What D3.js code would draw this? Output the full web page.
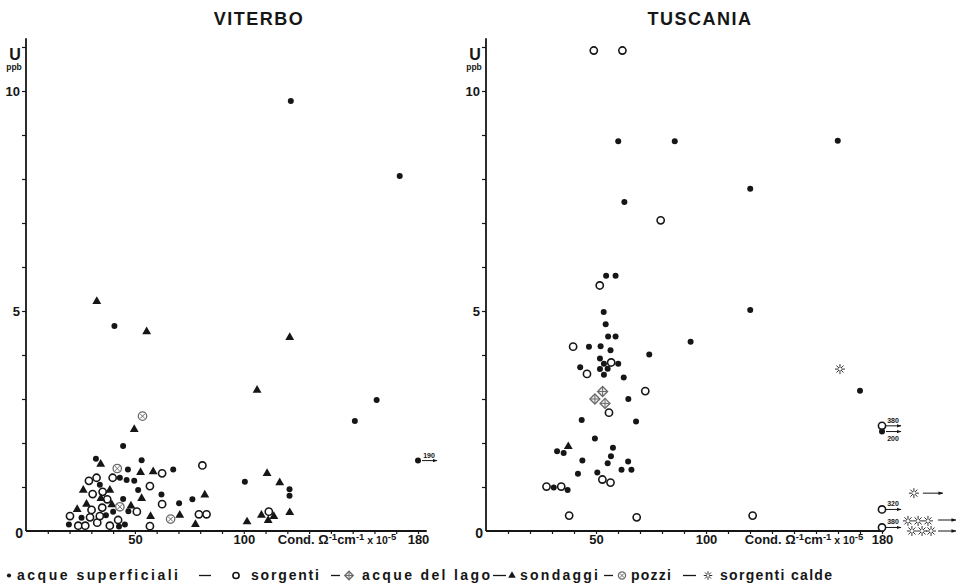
<!DOCTYPE html>
<html><head><meta charset="utf-8">
<script src="https://cdn.jsdelivr.net/npm/d3@7"></script>
<style>
body{margin:0;background:#fff;}
svg{display:block;}
text{font-family:"Liberation Sans",Arial,sans-serif;fill:#161616;}
</style></head>
<body>
<svg id="chart" width="962" height="586"></svg>
<script>
// ---------- DATA (x = conductivity, y = U ppb) ----------
const xTickLabels = [50, 100, 180];
const yTickLabels = [5, 10];

const viterboSuperficiali = [[121.6,9.77],[171.6,8.07],[40.6,4.66],[161,2.98],[151,2.5],[100.5,1.12],[121,0.95],[121,0.80],
 [44.6,1.93],[32.1,1.64],[53.1,1.61],[46.8,1.40],[67.6,1.40],[43.1,1.21],[46.2,1.16],[49.7,1.14],[33.9,1.05],[51.5,0.93],
 [62.2,0.83],[76.4,0.72],[70.3,0.63],[44.6,0.73],[40,0.44],[36.7,0.36],[19.7,0.15],[25.5,0.30],[42.7,0.10],[45.4,0.15],[47,0.45]];
const viterboSorgenti = [[111.5,0.44],[62.5,1.31],[81.0,1.49],[28.9,1.14],[32.4,1.21],[39.8,1.21],[56.9,1.02],[62.5,0.61],
 [37.3,0.72],[30.1,0.48],[35.0,0.53],[50.9,0.44],[79.4,0.38],[82.9,0.38],[20.2,0.34],[24,0.12],[27.2,0.12],[29.4,0.31],
 [32.7,0.19],[33.9,0.34],[38.5,0.12],[42.3,0.25],[56.9,0.11],[30.6,0.84],[35.2,0.89]];
const viterboSondaggi = [[32.5,5.22],[55.4,4.53],[121.1,4.4],[106.1,3.2],[110.7,1.31],[116.5,1.1],[108.1,0.36],[113.8,0.33],
 [111.2,0.24],[101.5,0.21],[121.1,0.42],[49.7,2.31],[34.3,1.52],[52.6,1.33],[58.4,1.35],[26.3,0.93],[38.5,0.93],[82.1,0.82],
 [53.1,0.74],[34.4,0.74],[27.8,0.61],[23.5,0.49],[48.2,0.57],[57.2,0.33],[70.6,0.36],[77.8,0.15],[39.4,0.6]];
const viterboPozzi = [[53.5,2.61],[41.9,1.42],[43.1,0.55],[66.4,0.27]];
// off-scale value plotted at axis end: [x, y, true value, label side, type]
const viterboOffscale = [[180,1.6,"190","above","superficiali"]];

const tuscaniaSuperficiali = [[60.1,8.86],[85.8,8.86],[159.9,8.87],[120.1,7.78],[62.9,7.48],[120.1,5.02],[54.6,5.80],[58.9,5.80],
 [53.5,4.98],[54.4,4.70],[55.5,4.42],[58.9,4.42],[46.8,4.19],[52.1,4.20],[56.6,4.11],[93,4.30],[74.2,4.01],[51.8,3.92],
 [53.6,3.80],[60.1,3.80],[42.8,3.72],[51.8,3.68],[55.3,3.69],[53.6,3.55],[62.6,3.49],[64.7,3.0],[43.5,2.52],[68.2,2.49],
 [49.5,2.10],[57.7,1.89],[32.3,1.81],[35.3,1.77],[56.8,1.70],[43.8,1.60],[55.3,1.54],[64.6,1.58],[61.6,1.39],[66.1,1.39],
 [41.8,1.30],[50.6,1.33],[30.8,0.99],[37.1,0.93],[170,3.19]];
const tuscaniaSorgenti = [[49,10.92],[62,10.92],[79.4,7.06],[51.7,5.58],[39.6,4.19],[56.9,3.83],[45.9,3.57],[72.4,3.18],
 [55.9,2.69],[52.9,1.17],[56.6,1.10],[27.5,1.01],[34.2,1.01],[37.8,0.35],[68.5,0.31],[121.2,0.35]];
const tuscaniaLago = [[53.0,3.17],[49.5,3.0],[54.1,2.90]];
const tuscaniaSondaggi = [[37.4,1.92]];
const tuscaniaCalde = [[160.9,3.68],[194.5,0.86],[191.8,0.23],[196.4,0.23],[200.9,0.23],[193.6,0.0],[198.2,0.0],[202.3,0.0]];
const tuscaniaOffscale = [[180,2.39,"380","above","sorgenti"],[180,2.26,"200","below","superficiali"],
 [180,0.49,"320","above","sorgenti"],[180,0.08,"380","above","sorgenti"]];
// arrows for off-scale hot springs: [x1, x2, y]
const tuscaniaArrows = [[198.6,207.7,0.86],[205.5,213.6,0.25],[205.5,213.6,0.0]];

const legendLabels = ["acque superficiali","sorgenti","acque del lago","sondaggi","pozzi","sorgenti calde"];

// ---------- DRAW ----------
const svg = d3.select("#chart");
const ink = "#161616", grey = "#6a6a6a";

svg.append("defs").append("marker").attr("id","arr").attr("viewBox","0 0 10 10")
  .attr("refX",9).attr("refY",5).attr("markerWidth",5).attr("markerHeight",5).attr("orient","auto")
  .append("path").attr("d","M0,1.5L10,5L0,8.5Z").attr("fill",ink);

function drawSymbol(g, type, cx, cy, s) {
  s = s || 1;
  if (type === "superficiali") {
    g.append("circle").attr("cx",cx).attr("cy",cy).attr("r",3*s).attr("fill",ink);
  } else if (type === "sorgenti") {
    g.append("circle").attr("cx",cx).attr("cy",cy).attr("r",3.6*s).attr("fill","#fff").attr("stroke",ink).attr("stroke-width",1.6);
  } else if (type === "sondaggi") {
    g.append("path").attr("transform",`translate(${cx},${cy})`).attr("d",d3.symbol(d3.symbolTriangle, 34*s*s)()).attr("fill",ink);
  } else if (type === "pozzi") {
    const r = 4.2*s;
    g.append("circle").attr("cx",cx).attr("cy",cy).attr("r",r).attr("fill","#fff").attr("stroke",grey).attr("stroke-width",1.3);
    const k = r*0.6;
    g.append("path").attr("d",`M${cx-k},${cy-k}L${cx+k},${cy+k}M${cx-k},${cy+k}L${cx+k},${cy-k}`).attr("stroke",grey).attr("stroke-width",1);
  } else if (type === "lago") {
    const r = 5*s;
    g.append("path").attr("d",`M${cx},${cy-r}L${cx+r},${cy}L${cx},${cy+r}L${cx-r},${cy}Z`).attr("fill","#eee").attr("stroke",grey).attr("stroke-width",1.3);
    g.append("path").attr("d",`M${cx},${cy-r}L${cx},${cy+r}M${cx-r},${cy}L${cx+r},${cy}`).attr("stroke",grey).attr("stroke-width",1);
  } else if (type === "calde") {
    const r = 5*s;
    let d = "";
    for (let i=0;i<4;i++){const a=i*Math.PI/4; d+=`M${cx-r*Math.cos(a)},${cy-r*Math.sin(a)}L${cx+r*Math.cos(a)},${cy+r*Math.sin(a)}`;}
    g.append("path").attr("d",d).attr("stroke",ink).attr("stroke-width",0.9);
    g.append("circle").attr("cx",cx).attr("cy",cy).attr("r",1.4*s).attr("fill","#fff");
  }
}

const panels = [
  {title:"VITERBO", titleX:259, xr:[26,418], axisEnd:184, condX:337,
   series:[["sorgenti",viterboSorgenti],["sondaggi",viterboSondaggi],["pozzi",viterboPozzi],["superficiali",viterboSuperficiali]],
   off:viterboOffscale, arrows:[]},
  {title:"TUSCANIA", titleX:700, xr:[486,882], axisEnd:181, condX:804,
   series:[["sorgenti",tuscaniaSorgenti],["lago",tuscaniaLago],["sondaggi",tuscaniaSondaggi],["superficiali",tuscaniaSuperficiali],["calde",tuscaniaCalde]],
   off:tuscaniaOffscale, arrows:tuscaniaArrows}
];

panels.forEach(p => {
  const x = d3.scaleLinear().domain([0,180]).range(p.xr);
  const y = d3.scaleLinear().domain([0,10]).range([531,91]);
  const g = svg.append("g");

  g.append("text").attr("x",p.titleX).attr("y",25).attr("text-anchor","middle")
    .attr("font-size",18).attr("font-weight","bold").attr("letter-spacing",1.5).text(p.title);

  // y axis
  const ya = g.append("g").attr("transform",`translate(${x(0)},0)`)
    .call(d3.axisLeft(y).tickValues(d3.range(1,12)).tickSize(4).tickPadding(2)
      .tickFormat(d => yTickLabels.includes(d) ? d : ""));
  ya.select(".domain").remove();
  ya.selectAll("line").attr("stroke",ink).attr("stroke-width",1.2);
  ya.selectAll("text").attr("font-size",13).attr("font-weight","bold").attr("fill",ink).attr("font-family","Liberation Sans, Arial, sans-serif");
  g.append("line").attr("x1",x(0)).attr("x2",x(0)).attr("y1",y(0)).attr("y2",y(11.2)).attr("stroke",ink).attr("stroke-width",1.8);

  // x axis
  const xa = g.append("g").attr("transform",`translate(0,${y(0)})`)
    .call(d3.axisBottom(x).tickValues(d3.range(10,190,10)).tickSize(3).tickPadding(1)
      .tickFormat(d => xTickLabels.includes(d) ? d : ""));
  xa.select(".domain").remove();
  xa.selectAll("line").attr("stroke",ink).attr("stroke-width",1.2);
  xa.selectAll("text").attr("font-size",13).attr("font-weight","bold").attr("fill",ink).attr("font-family","Liberation Sans, Arial, sans-serif");
  g.append("line").attr("x1",x(0)).attr("x2",x(p.axisEnd)).attr("y1",y(0)).attr("y2",y(0)).attr("stroke",ink).attr("stroke-width",1.8);

  g.append("text").attr("x",x(0)-3).attr("y",y(0)+7).attr("text-anchor","end")
    .attr("font-size",14).attr("font-weight","bold").text("0");

  // axis titles
  g.append("text").attr("x",x(0)-11).attr("y",60).attr("text-anchor","middle")
    .attr("font-size",16).attr("font-weight","bold").text("U");
  g.append("text").attr("x",x(0)-12).attr("y",70).attr("text-anchor","middle")
    .attr("font-size",8.5).attr("font-weight","bold").text("ppb");

  const ct = g.append("text").attr("x",p.condX).attr("y",544).attr("text-anchor","middle")
    .attr("font-size",13).attr("font-weight","bold");
  ct.append("tspan").text("Cond. Ω");
  ct.append("tspan").attr("dy",-4).attr("font-size",9.5).text("-1");
  ct.append("tspan").attr("dy",4).text("cm");
  ct.append("tspan").attr("dy",-4).attr("font-size",9.5).text("-1");
  ct.append("tspan").attr("dy",4).attr("font-size",10.5).text(" x 10");
  ct.append("tspan").attr("dy",-4).attr("font-size",9.5).text("-5");

  // points
  p.series.forEach(([type, data]) => {
    data.forEach(d => drawSymbol(g, type, x(d[0]), y(d[1])));
  });

  // off-scale points with arrows and values
  p.off.forEach(d => {
    const px = x(d[0]), py = y(d[1]);
    drawSymbol(g, d[4], px, py);
    g.append("line").attr("x1",px+4).attr("x2",px+19).attr("y1",py).attr("y2",py)
      .attr("stroke",ink).attr("stroke-width",1).attr("marker-end","url(#arr)");
    g.append("text").attr("x",px+11).attr("y",d[3]==="above" ? py-3 : py+9)
      .attr("text-anchor","middle").attr("font-size",7).attr("font-weight","bold").attr("fill",ink).text(d[2]);
  });
  p.arrows.forEach(a => {
    g.append("line").attr("x1",x(a[0])).attr("x2",x(a[1])).attr("y1",y(a[2])).attr("y2",y(a[2]))
      .attr("stroke",ink).attr("stroke-width",1).attr("marker-end","url(#arr)");
  });
});

// legend
const legTypes = ["superficiali","sorgenti","lago","sondaggi","pozzi","calde"];
const legSym = [9,236,349,512,622,708];
const legText = [[17,161],[251,68],[362,128],[520,78],[631,40],[720,112]];
const legDash = [[199,211],[331,340],[493,506],[604,613],[683,696]];
const lg = svg.append("g");
const ly = 580;
legTypes.forEach((t,i) => {
  drawSymbol(lg, t, legSym[i], ly-4.5, t==="superficiali"?0.7:0.85);
  lg.append("text").attr("x",legText[i][0]).attr("y",ly).attr("font-size",14).attr("font-weight","bold")
    .attr("font-family","DejaVu Sans Condensed, Liberation Sans Narrow, sans-serif")
    .attr("textLength",legText[i][1]).attr("lengthAdjust","spacing").text(legendLabels[i]);
});
legDash.forEach(d => lg.append("line").attr("x1",d[0]).attr("x2",d[1]).attr("y1",ly-4.5).attr("y2",ly-4.5).attr("stroke",ink).attr("stroke-width",1.3));
</script>
</body></html>
